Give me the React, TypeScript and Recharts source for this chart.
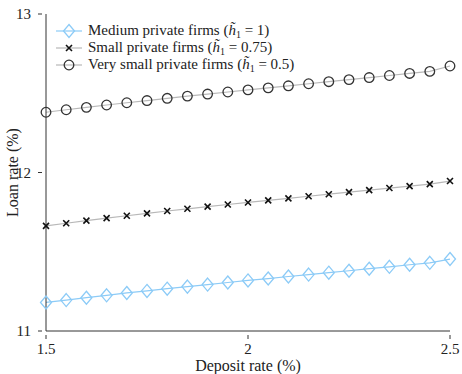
import React from "react";
import { LineChart, Line, XAxis, YAxis } from "recharts";

const depositRates = [
  1.5, 1.55, 1.6, 1.65, 1.7, 1.75, 1.8, 1.85, 1.9, 1.95, 2.0,
  2.05, 2.1, 2.15, 2.2, 2.25, 2.3, 2.35, 2.4, 2.45, 2.5,
];
const mediumFirms = [
  11.18, 11.195, 11.21, 11.225, 11.24, 11.253, 11.267, 11.28, 11.293, 11.306, 11.319,
  11.331, 11.344, 11.356, 11.368, 11.38, 11.393, 11.405, 11.418, 11.43, 11.454,
];
const smallFirms = [
  11.663, 11.68, 11.696, 11.712, 11.727, 11.742, 11.757, 11.771, 11.785, 11.798, 11.811,
  11.824, 11.837, 11.85, 11.863, 11.876, 11.889, 11.902, 11.914, 11.927, 11.946,
];
const verySmallFirms = [
  12.38, 12.396, 12.411, 12.426, 12.44, 12.454, 12.468, 12.482, 12.495, 12.508, 12.521,
  12.534, 12.547, 12.56, 12.573, 12.586, 12.599, 12.612, 12.625, 12.638, 12.672,
];
const xTicks = [1.5, 2, 2.5];
const yTicks = [11, 12, 13];

const data = depositRates.map((x, i) => ({
  x,
  medium: mediumFirms[i],
  small: smallFirms[i],
  verySmall: verySmallFirms[i],
}));

const FONT = "'Liberation Serif', 'DejaVu Serif', serif";
const BLUE = "#8ccbf7";
const GRAY = "#b8b8b8";

const Diamond = ({ cx, cy }: any) => (
  <path
    d={`M${cx},${cy - 6.5}L${cx + 5.5},${cy}L${cx},${cy + 6.5}L${cx - 5.5},${cy}Z`}
    fill="none"
    stroke={BLUE}
    strokeWidth={1.3}
  />
);
const Cross = ({ cx, cy }: any) => (
  <path
    d={`M${cx - 3},${cy - 3}L${cx + 3},${cy + 3}M${cx - 3},${cy + 3}L${cx + 3},${cy - 3}`}
    stroke="#111"
    strokeWidth={1.6}
  />
);
const Circle = ({ cx, cy }: any) => (
  <circle cx={cx} cy={cy} r={4.8} fill="none" stroke="#333" strokeWidth={1.3} />
);

const XTick = ({ x, y, payload }: any) => (
  <g>
    <line x1={x} x2={x} y1={y} y2={y - 4} stroke="#333" />
    <text x={x} y={y + 15} textAnchor="middle" fontFamily={FONT} fontSize={15} fill="#222">
      {payload.value}
    </text>
  </g>
);
const YTick = ({ x, y, payload }: any) => (
  <g>
    <line x1={x} x2={x + 4} y1={y} y2={y} stroke="#333" />
    <text x={x - 7} y={y + 5} textAnchor="end" fontFamily={FONT} fontSize={15} fill="#222">
      {payload.value}
    </text>
  </g>
);

const legendRows = [
  { label: "Medium private firms", h: "1", color: BLUE, mark: "diamond" },
  { label: "Small private firms", h: "0.75", color: GRAY, mark: "cross" },
  { label: "Very small private firms", h: "0.5", color: GRAY, mark: "circle" },
];

const LegendBox = () => (
  <div
    style={{
      position: "absolute",
      left: 56,
      top: 22,
      fontFamily: FONT,
      fontSize: 15,
      color: "#222",
    }}
  >
    {legendRows.map((r) => (
      <div key={r.label} style={{ display: "flex", alignItems: "center", height: 17 }}>
        <svg width={26} height={16} style={{ marginRight: 6 }}>
          <line x1={0} x2={26} y1={8} y2={8} stroke={r.color} strokeWidth={1.2} />
          {r.mark === "diamond" && <Diamond cx={13} cy={8} />}
          {r.mark === "cross" && <Cross cx={13} cy={8} />}
          {r.mark === "circle" && <Circle cx={13} cy={8} />}
        </svg>
        <span style={{ whiteSpace: "nowrap", lineHeight: "15px" }}>
          {r.label} (<i>h̃</i>
          <sub style={{ fontSize: 10, lineHeight: 0, verticalAlign: "-3px" }}>1</sub> = {r.h})
        </span>
      </div>
    ))}
  </div>
);

export default function App() {
  return (
    <div style={{ position: "absolute", left: 0, top: 0, width: 462, height: 374, background: "#fff" }}>
      <LineChart
        width={462}
        height={374}
        data={data}
        margin={{ top: 14, right: 12, bottom: 0, left: 0 }}
      >
        <XAxis
          dataKey="x"
          type="number"
          domain={[1.5, 2.5]}
          ticks={xTicks}
          height={43}
          tick={<XTick />}
          tickLine={false}
          stroke="#333"
          label={{
            value: "Deposit rate (%)",
            position: "insideBottom",
            offset: 3,
            style: { fontFamily: FONT, fontSize: 16, fill: "#222" },
          }}
        />
        <YAxis
          type="number"
          domain={[11, 13]}
          ticks={yTicks}
          width={46}
          tick={<YTick />}
          tickLine={false}
          stroke="#333"
          label={{
            value: "Loan rate (%)",
            angle: -90,
            position: "insideLeft",
            offset: 12,
            style: { fontFamily: FONT, fontSize: 16, fill: "#222", textAnchor: "middle" },
          }}
        />
        <Line
          dataKey="medium"
          stroke={BLUE}
          strokeWidth={1.2}
          dot={(p: any) => <Diamond key={p.index} cx={p.cx} cy={p.cy} />}
          isAnimationActive={false}
        />
        <Line
          dataKey="small"
          stroke={GRAY}
          strokeWidth={1.2}
          dot={(p: any) => <Cross key={p.index} cx={p.cx} cy={p.cy} />}
          isAnimationActive={false}
        />
        <Line
          dataKey="verySmall"
          stroke={GRAY}
          strokeWidth={1.2}
          dot={(p: any) => <Circle key={p.index} cx={p.cx} cy={p.cy} />}
          isAnimationActive={false}
        />
      </LineChart>
      <LegendBox />
    </div>
  );
}
